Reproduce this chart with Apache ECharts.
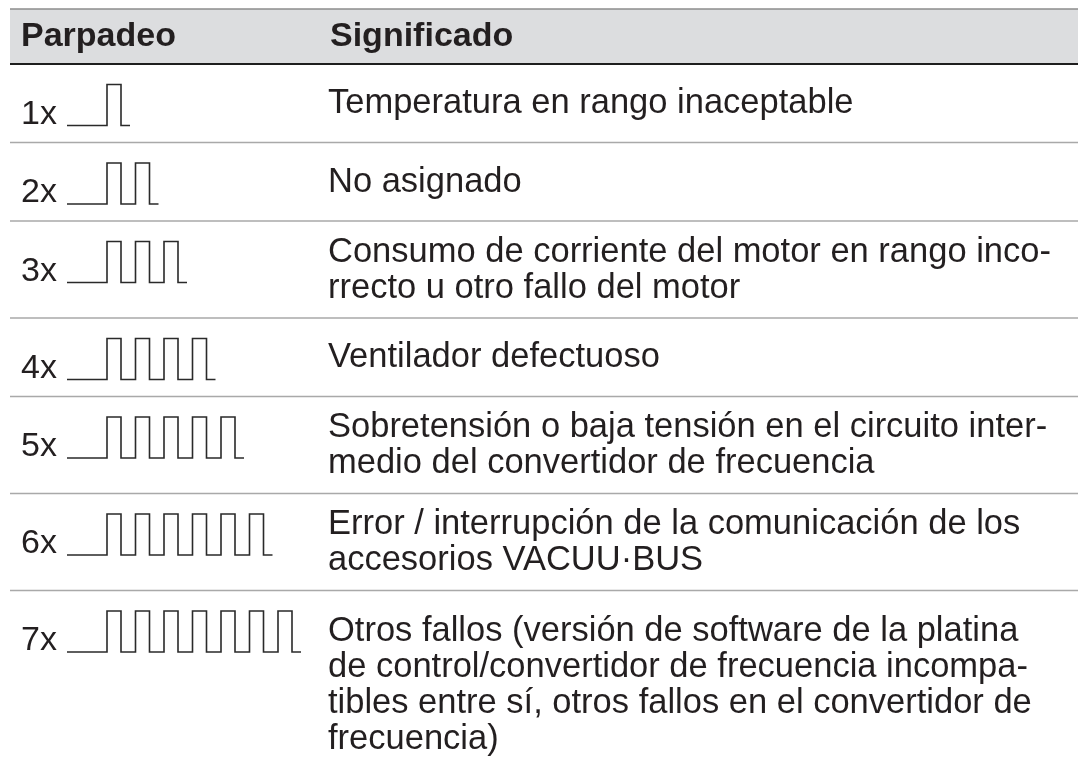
<!DOCTYPE html>
<html><head><meta charset="utf-8">
<script src="https://cdn.jsdelivr.net/npm/echarts@6/dist/echarts.min.js"></script>
<style>html,body{margin:0;padding:0;background:#fff}#c{width:1078px;height:764px}</style>
</head><body><div id="c"></div>
<script>
// ---- data ----
const headers = ['Parpadeo', 'Significado'];
const blinkLabels = ['1x', '2x', '3x', '4x', '5x', '6x', '7x'];
const blinkCounts = [1, 2, 3, 4, 5, 6, 7];
const meanings = [
  'Temperatura en rango inaceptable',
  'No asignado',
  'Consumo de corriente del motor en rango inco-\nrrecto u otro fallo del motor',
  'Ventilador defectuoso',
  'Sobretensión o baja tensión en el circuito inter-\nmedio del convertidor de frecuencia',
  'Error / interrupción de la comunicación de los\naccesorios VACUU·BUS',
  'Otros fallos (versión de software de la platina\nde control/convertidor de frecuencia incompa-\ntibles entre sí, otros fallos en el convertidor de\nfrecuencia)'
];

// ---- layout (not data) ----
const W = 1078, H = 764;
const L = {
  tableLeft: 10, headerTop: 9, headerBottom: 64, headerBaseline: 48.5,
  rowHeights: [78.5, 78.5, 97, 78.5, 97, 97, 188],
  labelX: 21, textX: 328, headerTextX2: 330,
  waveStart: 67, waveFirstRise: 107, period: 28.5, pulse: 14, tail: 9,
  waveTopOff: 20.5, waveBotOff: 61.5,
  fontSize: 34.5, labelFontSize: 34, headFontSize: 34, lineHeight: 36
};
const rowTops = [];
(function () { let acc = L.headerBottom; L.rowHeights.forEach(h => { rowTops.push(acc); acc += h; }); })();

const FONT = '"Liberation Sans", Arial, Helvetica, sans-serif';
const TEXT = '#231f20';

const chart = echarts.init(document.getElementById('c'), null, { renderer: 'canvas' });

function headerRender(params, api) {
  const a = api.coord([L.tableLeft, L.headerTop]);
  const b = api.coord([W, L.headerBottom]);
  const base = api.coord([0, L.headerBaseline])[1];
  const ty = base - 0.347 * L.headFontSize;
  return {
    type: 'group',
    children: [
      { type: 'rect', shape: { x: a[0], y: a[1], width: b[0] - a[0], height: b[1] - a[1] }, style: { fill: '#dcdddf' } },
      { type: 'line', shape: { x1: a[0], y1: a[1], x2: b[0], y2: a[1] }, style: { stroke: '#8c8c8c', lineWidth: 1.6 } },
      { type: 'line', shape: { x1: a[0], y1: b[1], x2: b[0], y2: b[1] }, style: { stroke: '#1e1e1e', lineWidth: 2 } },
      { type: 'text', x: api.coord([L.labelX, 0])[0], y: ty,
        style: { text: headers[0], fontSize: L.headFontSize, fontWeight: 'bold', fontFamily: FONT, fill: TEXT, verticalAlign: 'middle', align: 'left' } },
      { type: 'text', x: api.coord([L.headerTextX2, 0])[0], y: ty,
        style: { text: headers[1], fontSize: L.headFontSize, fontWeight: 'bold', fontFamily: FONT, fill: TEXT, verticalAlign: 'middle', align: 'left' } }
    ]
  };
}

function rowRender(params, api) {
  const i = api.value(0);
  const n = api.value(1);
  const top = rowTops[i];
  const h = L.rowHeights[i];
  const children = [];
  if (i > 0) {
    const p1 = api.coord([L.tableLeft, top]), p2 = api.coord([W, top]);
    children.push({ type: 'line', shape: { x1: p1[0], y1: p1[1], x2: p2[0], y2: p2[1] }, style: { stroke: '#a9a9a9', lineWidth: 1.6 } });
  }
  // waveform
  const yT = top + L.waveTopOff, yB = top + L.waveBotOff;
  const pts = [[L.waveStart, yB]];
  for (let k = 0; k < n; k++) {
    const x0 = L.waveFirstRise + k * L.period;
    pts.push([x0, yB], [x0, yT], [x0 + L.pulse, yT], [x0 + L.pulse, yB]);
  }
  pts.push([L.waveFirstRise + (n - 1) * L.period + L.pulse + L.tail, yB]);
  children.push({ type: 'polyline', shape: { points: pts.map(p => api.coord(p)) },
    style: { stroke: '#2a2a2a', lineWidth: 1.6, fill: null, lineJoin: 'miter' } });
  // label
  const lb = api.coord([L.labelX, yB + 0.5]);
  children.push({ type: 'text', x: lb[0], y: lb[1] - 0.347 * L.labelFontSize,
    style: { text: blinkLabels[i], fontSize: L.labelFontSize, fontFamily: FONT, fill: TEXT, verticalAlign: 'middle', align: 'left' } });
  // meaning
  const mc = api.coord([L.textX, top + h / 2 + 0.5]);
  children.push({ type: 'text', x: mc[0], y: mc[1],
    style: { text: meanings[i], fontSize: L.fontSize, fontFamily: FONT, fill: TEXT, verticalAlign: 'middle', align: 'left', lineHeight: L.lineHeight } });
  return { type: 'group', children };
}

chart.setOption({
  animation: false,
  grid: { left: 0, top: 0, right: 0, bottom: 0 },
  xAxis: { type: 'value', min: 0, max: W, show: false },
  yAxis: { type: 'value', min: 0, max: H, inverse: true, show: false },
  series: [
    { type: 'custom', data: [[0]], renderItem: headerRender, silent: true, clip: false },
    { type: 'custom', data: blinkCounts.map((c, i) => [i, c]), renderItem: rowRender, silent: true, clip: false }
  ]
});
</script></body></html>
